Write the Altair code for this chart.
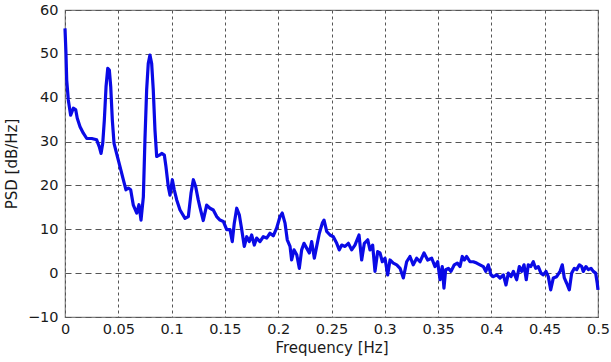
import altair as alt
import pandas as pd

freq = [0, 0.0009, 0.0016, 0.0031, 0.0053, 0.0078, 0.0100, 0.0115, 0.0141, 0.0172,
        0.0204, 0.0250, 0.0297, 0.0322, 0.0338, 0.0354, 0.0369, 0.0385, 0.0401, 0.0416,
        0.0429, 0.0444, 0.0460, 0.0491, 0.0516, 0.0547, 0.0572, 0.0594, 0.0616, 0.0641,
        0.0673, 0.0694, 0.0713, 0.0735, 0.0750, 0.0766, 0.0781, 0.0797, 0.0813, 0.0828,
        0.0844, 0.0860, 0.0885, 0.0907, 0.0932, 0.0947, 0.0969, 0.0985, 0.1007, 0.1025,
        0.1048, 0.1079, 0.1126, 0.1157, 0.1182, 0.1204, 0.1226, 0.1250, 0.1266, 0.1297,
        0.1329, 0.1360, 0.1391, 0.1423, 0.1454, 0.1485, 0.1517, 0.1548, 0.1569, 0.1588,
        0.1611, 0.1635, 0.1658, 0.1682, 0.1705, 0.1729, 0.1751, 0.1776, 0.1798, 0.1829,
        0.1860, 0.1892, 0.1923, 0.1954, 0.1986, 0.2017, 0.2038, 0.2064, 0.2085, 0.2111,
        0.2126, 0.2148, 0.2174, 0.2198, 0.2220, 0.2242, 0.2267, 0.2292, 0.2314, 0.2339,
        0.2361, 0.2386, 0.2414, 0.2430, 0.2455, 0.2486, 0.2517, 0.2549, 0.2573, 0.2596,
        0.2627, 0.2658, 0.2689, 0.2720, 0.2758, 0.2783, 0.2808, 0.2840, 0.2861, 0.2886,
        0.2908, 0.2933, 0.2955, 0.2977, 0.3002, 0.3027, 0.3049, 0.3080, 0.3112, 0.3143,
        0.3174, 0.3205, 0.3236, 0.3267, 0.3299, 0.3330, 0.3368, 0.3402, 0.3440, 0.3471,
        0.3496, 0.3518, 0.3539, 0.3555, 0.3571, 0.3596, 0.3621, 0.3652, 0.3680, 0.3705,
        0.3727, 0.3746, 0.3768, 0.3799, 0.3830, 0.3862, 0.3893, 0.3924, 0.3947, 0.3971,
        0.3996, 0.4018, 0.4050, 0.4081, 0.4112, 0.4137, 0.4159, 0.4184, 0.4206, 0.4237,
        0.4262, 0.4284, 0.4306, 0.4327, 0.4346, 0.4369, 0.4393, 0.4415, 0.4440, 0.4465,
        0.4487, 0.4512, 0.4534, 0.4556, 0.4581, 0.4612, 0.4644, 0.4665, 0.4684, 0.4706,
        0.4731, 0.4753, 0.4778, 0.4800, 0.4825, 0.4847, 0.4862, 0.4887, 0.4909, 0.4934,
        0.4956, 0.4978, 0.4993, 0.5000]

psd = [55.8, 50.2, 44.0, 39.5, 36.0, 37.6, 37.3, 35.3, 33.4, 31.9,
       30.7, 30.7, 30.4, 28.8, 27.3, 29.6, 34.9, 42.5, 46.7, 46.3,
       42.5, 34.9, 29.6, 26.6, 24.3, 21.3, 19.0, 19.4, 19.0, 15.5,
       13.7, 15.6, 12.1, 17.4, 30.4, 41.8, 47.8, 49.7, 47.8, 41.8,
       32.6, 26.6, 26.9, 27.3, 26.9, 24.3, 19.7, 17.8, 21.3, 19.0,
       16.7, 14.4, 12.5, 12.9, 18.2, 21.3, 19.7, 16.7, 15.0, 12.0,
       15.5, 14.8, 14.4, 12.9, 12.1, 11.8, 9.9, 9.9, 7.2, 11.4,
       14.8, 13.3, 9.9, 6.1, 8.3, 7.2, 8.7, 6.4, 8.0, 7.2,
       8.3, 8.0, 9.1, 8.5, 10.3, 12.9, 13.7, 11.4, 7.6, 6.1,
       3.0, 5.3, 4.2, 1.1, 5.3, 6.8, 5.7, 4.6, 7.2, 3.4,
       6.1, 9.1, 11.4, 12.1, 9.5, 8.7, 8.3, 6.8, 5.3, 6.4,
       6.1, 6.8, 5.3, 6.4, 8.7, 3.0, 6.8, 7.6, 5.3, 6.4,
       0.4, 4.9, 4.6, 2.6, 3.4, -0.4, 3.0, 2.3, 1.9, 1.1,
       -1.1, 2.6, 3.8, 1.9, 3.4, 2.6, 4.6, 3.0, 3.4, 1.5,
       2.6, -1.5, 1.5, -3.4, 0.8, 1.1, 0.4, 1.9, 2.3, 1.5,
       3.8, 3.0, 3.8, 2.6, 2.6, 2.3, 1.9, 1.5, 0.4, 1.9,
       -0.4, -0.8, -0.4, -1.1, -0.4, -2.7, 0.0, -0.8, 0.4, -1.5,
       1.5, 0.4, 1.9, -1.5, 1.9, 1.5, 2.6, 1.1, 1.5, 0.0,
       -0.4, 0.4, -0.8, -3.8, -1.1, -0.8, 0.4, 1.9, -1.1, -2.3,
       -3.8, 0.0, 1.1, 0.8, 1.9, 1.5, 0.4, 1.5, 0.8, 1.1,
       0.4, 0.0, -2.3, -3.8]

x_ticks = [0, 0.05, 0.1, 0.15, 0.2, 0.25, 0.3, 0.35, 0.4, 0.45, 0.5]
y_ticks = [-10, 0, 10, 20, 30, 40, 50, 60]

df = pd.DataFrame({"freq": freq, "psd": psd})

FONT = "DejaVu Sans"
TXT = "#1a1a1a"

chart = alt.Chart(df).mark_line(color="#0a0ae6", strokeWidth=3.2, strokeJoin="round").encode(
    x=alt.X("freq:Q",
            scale=alt.Scale(domain=[0, 0.5], nice=False, zero=False),
            axis=alt.Axis(values=x_ticks, format="~g", title="Frequency [Hz]",
                          grid=True, gridDash=[3, 3], gridColor="#555555", gridOpacity=1,
                          domain=False, ticks=False, labelPadding=5, titlePadding=5,
                          labelFont=FONT, labelFontSize=14.5, labelColor=TXT,
                          titleFont=FONT, titleFontSize=15, titleFontWeight="normal",
                          titleColor=TXT, labelFlush=False)),
    y=alt.Y("psd:Q",
            scale=alt.Scale(domain=[-10, 60], nice=False, zero=False),
            axis=alt.Axis(values=y_ticks, title="PSD [dB/Hz]",
                          grid=True, gridDash=[6, 4], gridColor="#555555", gridOpacity=1,
                          domain=False, ticks=False, labelPadding=7, titlePadding=8,
                          labelFont=FONT, labelFontSize=14.5, labelColor=TXT,
                          titleFont=FONT, titleFontSize=15, titleFontWeight="normal",
                          titleColor=TXT, labelFlush=False)),
).properties(
    width=533, height=307,
    autosize="none",
    padding={"left": 65, "top": 10, "right": 13, "bottom": 45},
    background="white",
).configure_view(stroke="#808080", strokeWidth=1.2)

chart.save("out.html", embed_options={"renderer": "svg", "actions": False})
